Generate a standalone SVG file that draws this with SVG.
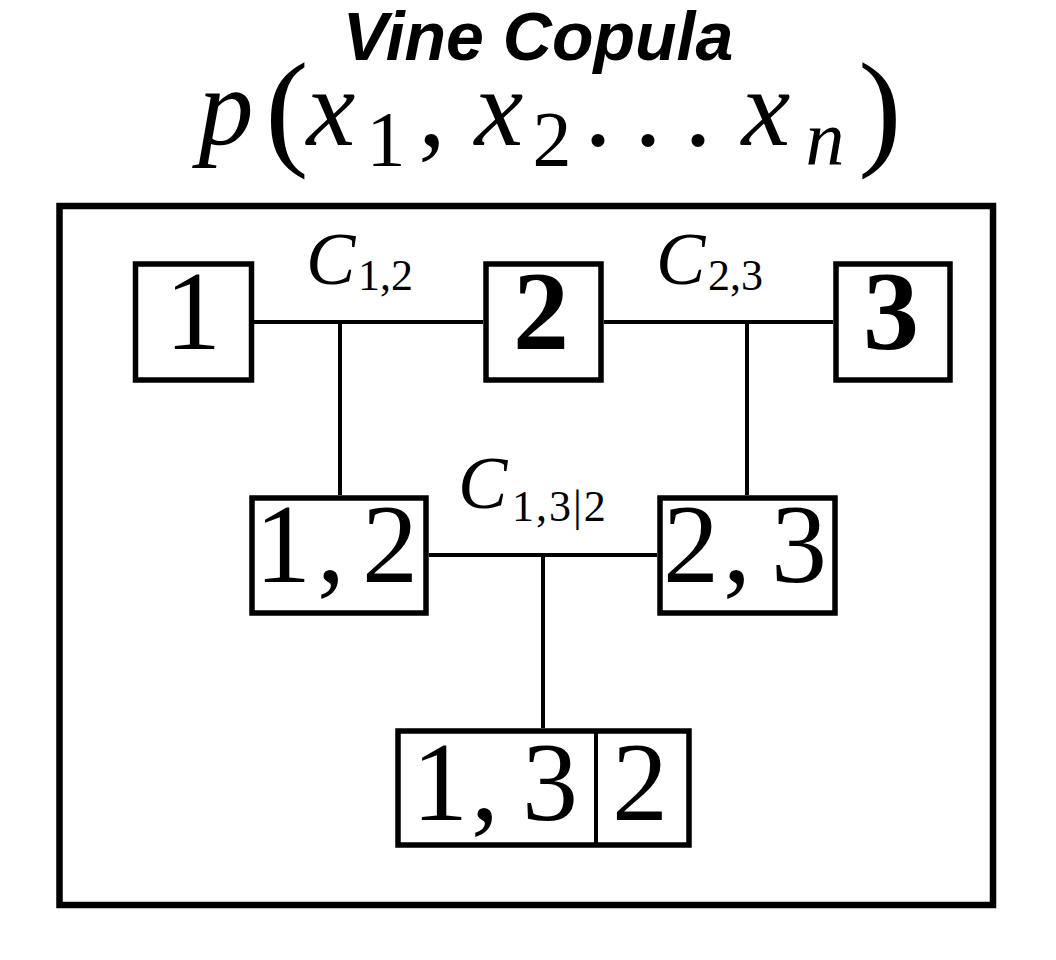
<svg xmlns="http://www.w3.org/2000/svg" width="1056" height="960" viewBox="0 0 1056 960">
<style>
.bg{fill:#ffffff}
.box{fill:#ffffff;stroke:#000;stroke-width:5.5}
.outer{fill:none;stroke:#000;stroke-width:6.5}
.edge{stroke:#000;stroke-width:4;fill:none}
.title{font-family:"Liberation Sans",Arial,sans-serif;font-weight:bold;font-style:italic;font-size:68px;fill:#000}
.m{font-family:"Liberation Serif","Times New Roman",serif;fill:#000}
.it{font-style:italic}
.big{font-size:112px}
.mid{text-anchor:middle}
.cl{font-size:74px;font-style:italic}
.sub{font-size:44px}
</style>
<rect class="bg" x="0" y="0" width="1056" height="960"/>
<g id="title">
<text class="title" x="538" y="60" text-anchor="middle">Vine Copula</text>
</g>
<g id="formula" class="m">
<text class="it mid" font-size="110" x="226" y="145">p</text>
<text class="mid" font-size="130" x="287" y="152">(</text>
<text class="it mid" font-size="110" x="331" y="145">x</text>
<text class="mid" font-size="78" x="386" y="165">1</text>
<text class="mid" font-size="110" x="432" y="145">,</text>
<text class="it mid" font-size="110" x="499" y="145">x</text>
<text class="mid" font-size="78" x="552" y="165">2</text>
<text class="mid" font-size="110" x="598" y="145">.</text>
<text class="mid" font-size="110" x="648" y="145">.</text>
<text class="mid" font-size="110" x="698" y="145">.</text>
<text class="it mid" font-size="110" x="766" y="145">x</text>
<text class="it mid" font-size="78" x="825" y="165">n</text>
<text class="mid" font-size="130" x="880" y="152">)</text>
</g>
<rect id="frame" class="outer" x="59.5" y="206" width="933.5" height="699"/>
<g id="connectors">
<line class="edge" x1="254" y1="322" x2="483" y2="322"/>
<line class="edge" x1="604" y1="322" x2="833" y2="322"/>
<line class="edge" x1="340" y1="322" x2="340" y2="495"/>
<line class="edge" x1="747" y1="322" x2="747" y2="495"/>
<line class="edge" x1="429" y1="555" x2="657" y2="555"/>
<line class="edge" x1="543" y1="555" x2="543" y2="728"/>
</g>
<g id="edge-labels" class="m">
<text x="306" y="284"><tspan class="cl">C</tspan><tspan class="sub" dy="6" x="358">1,2</tspan></text>
<text x="656" y="284"><tspan class="cl">C</tspan><tspan class="sub" dy="6" x="708">2,3</tspan></text>
<text x="458" y="508"><tspan class="cl">C</tspan><tspan class="sub" dy="13" x="512" letter-spacing="2">1,3|2</tspan></text>
</g>
<g id="node-1">
<rect class="box" x="135.5" y="264" width="116" height="116"/>
<text class="m big mid" x="193" y="349">1</text>
</g>
<g id="node-2">
<rect class="box" x="486" y="264" width="115" height="116"/>
<text class="m big mid" font-weight="bold" x="541" y="349">2</text>
</g>
<g id="node-3">
<rect class="box" x="836" y="264" width="114" height="116"/>
<text class="m big mid" font-weight="bold" x="891" y="349">3</text>
</g>
<g id="node-12">
<rect class="box" x="252" y="498" width="174" height="115"/>
<text class="m big mid" y="582"><tspan x="283">1</tspan><tspan x="331">,</tspan><tspan x="390">2</tspan></text>
</g>
<g id="node-23">
<rect class="box" x="660" y="498" width="175" height="115"/>
<text class="m big mid" y="582"><tspan x="691">2</tspan><tspan x="737">,</tspan><tspan x="799">3</tspan></text>
</g>
<g id="node-13-2">
<rect class="box" x="398" y="731" width="291" height="114"/>
<line class="edge" x1="596" y1="731" x2="596" y2="845"/>
<text class="m big mid" y="820"><tspan x="440">1</tspan><tspan x="485">,</tspan><tspan x="550">3</tspan><tspan x="640">2</tspan></text>
</g>
</svg>
